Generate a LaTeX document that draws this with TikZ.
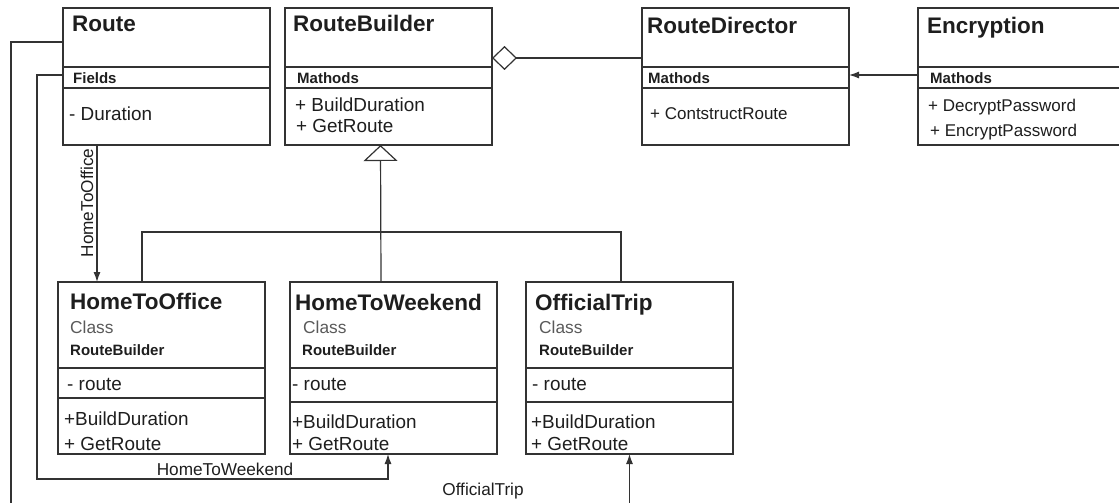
\documentclass[tikz,border=0pt]{standalone}
\usepackage{fontspec}
\setmainfont{Liberation Sans}
\usetikzlibrary{arrows.meta}
\definecolor{ink}{HTML}{1E1E1E}
\definecolor{edge}{HTML}{333333}
\definecolor{muted}{HTML}{5A5A5A}

\begin{document}
\begin{tikzpicture}[x=1pt,y=-1pt,
  classbox/.style={draw=edge, line width=1.3pt, fill=white, anchor=north west,
    minimum width=207pt, inner sep=0pt, outer sep=0pt},
  rule/.style={draw=edge, line width=1.2pt},
  txt/.style={anchor=base west, inner sep=0pt, text=ink},
  title/.style={txt, font=\fontsize{22.5}{23}\selectfont\bfseries},
  head/.style={txt, font=\fontsize{15}{15}\selectfont\bfseries},
  item/.style={txt, font=\fontsize{18.9}{19}\selectfont},
  small/.style={txt, font=\fontsize{17}{17}\selectfont},
  stereo/.style={txt, text=muted, font=\fontsize{17.3}{17}\selectfont},
  label/.style={inner sep=0pt, text=ink, font=\fontsize{17.2}{17}\selectfont},
  link/.style={draw=edge, line width=1.2pt},
  tip/.style={-{Latex[length=10pt,width=7pt]}},
]
\useasboundingbox (0,0) rectangle (1119,503);

% ---------- class boxes ----------
\node[classbox, minimum height=137pt] (route) at (63,8) {};
\node[classbox, minimum height=137pt] (rb) at (285,8) {};
\node[classbox, minimum height=137pt] (rd) at (642,8) {};
\node[classbox, minimum height=137pt, minimum width=230pt] (enc) at (918,8) {};

\node[classbox, minimum height=172pt] (h2o) at (58,282) {};
\node[classbox, minimum height=172pt] (h2w) at (290,282) {};
\node[classbox, minimum height=172pt] (ot) at (526,282) {};

% compartment rules
\foreach \b in {route,rb,rd,enc}{
  \draw[rule] ([yshift=-59pt]\b.north west) -- ([yshift=-59pt]\b.north east);
  \draw[rule] ([yshift=-80pt]\b.north west) -- ([yshift=-80pt]\b.north east);
}
\foreach \b in {h2o,h2w,ot}
  \draw[rule] ([yshift=-86pt]\b.north west) -- ([yshift=-86pt]\b.north east);
\draw[rule] ([yshift=-116pt]h2o.north west) -- ([yshift=-116pt]h2o.north east);
\draw[rule] ([yshift=-120pt]h2w.north west) -- ([yshift=-120pt]h2w.north east);
\draw[rule] ([yshift=-120pt]ot.north west) -- ([yshift=-120pt]ot.north east);

% ---------- texts ----------
\node[title] (routeT) at (72,32) {Route};
\node[head] (routeH) at (73,84) {Fields};
\node[item] (routeF) at (69,120) {- Duration};

\node[title] (rbT) at (293,32) {RouteBuilder};
\node[head] (rbH) at (297,83) {Mathods};
\node[item] (rbM1) at (295,111) {+ BuildDuration};
\node[item] (rbM2) at (296,132) {+ GetRoute};

\node[title] (rdT) at (647,34) {RouteDirector};
\node[head] (rdH) at (648,84) {Mathods};
\node[small] (rdM) at (650,119) {+ ContstructRoute};

\node[title] (encT) at (927,34) {Encryption};
\node[head] (encH) at (930,84) {Mathods};
\node[small] (encM1) at (928,111) {+ DecryptPassword};
\node[small] (encM2) at (930,136) {+ EncryptPassword};

\node[title] (h2oT) at (70,309) {HomeToOffice};
\node[stereo] (h2oS) at (70,333) {Class};
\node[head] (h2oB) at (70,355) {RouteBuilder};
\node[item] (h2oF) at (67,390) {- route};
\node[item] (h2oM1) at (64,425) {+BuildDuration};
\node[item] (h2oM2) at (64,450) {+ GetRoute};

\node[title] (h2wT) at (295,310) {HomeToWeekend};
\node[stereo] (h2wS) at (303,333) {Class};
\node[head] (h2wB) at (302,355) {RouteBuilder};
\node[item] (h2wF) at (292,390) {- route};
\node[item] (h2wM1) at (292,428) {+BuildDuration};
\node[item] (h2wM2) at (292,450) {+ GetRoute};

\node[title] (otT) at (535,310) {OfficialTrip};
\node[stereo] (otS) at (539,333) {Class};
\node[head] (otB) at (539,355) {RouteBuilder};
\node[item] (otF) at (532,390) {- route};
\node[item] (otM1) at (531,428) {+BuildDuration};
\node[item] (otM2) at (531,450) {+ GetRoute};

% ---------- connectors ----------
% aggregation RouteDirector -> RouteBuilder
\draw[link, {Diamond[open,length=25pt,width=24pt]}-]
  ([yshift=-50pt]rb.north east) -- ([yshift=-50pt]rd.north west);
% Encryption -> RouteDirector
\draw[link, tip] ([yshift=-67pt]enc.north west) -- ([yshift=-67pt]rd.north east);

% generalisation tree
\coordinate (fork) at (381,232);
\draw[link] ([xshift=84pt]h2o.north west) |- (fork) -| ([xshift=95pt]ot.north west);
\draw[link, -{Triangle[open,length=16pt,width=34pt]}]
  ([xshift=-12.5pt]h2w.north) -- ([xshift=-8pt]rb.south);

% Route -> concrete builders
\draw[link, tip] ([xshift=34pt]route.south west) -- ([xshift=39pt]h2o.north west);
\node[label, rotate=90] (lblH2O) at (87,203) {HomeToOffice};

\coordinate (railB) at (37,479);
\draw[link, tip] ([yshift=-67pt]route.north west) -| (railB) -| ([xshift=-5.5pt]h2w.south);
\node[label] (lblH2W) at (225,469) {HomeToWeekend};

\coordinate (railA) at (11,507);
\draw[link, tip] ([yshift=-34pt]route.north west) -| (railA) -| (ot.south);
\node[label] (lblOT) at (483,491) {OfficialTrip};
\end{tikzpicture}
\end{document}
